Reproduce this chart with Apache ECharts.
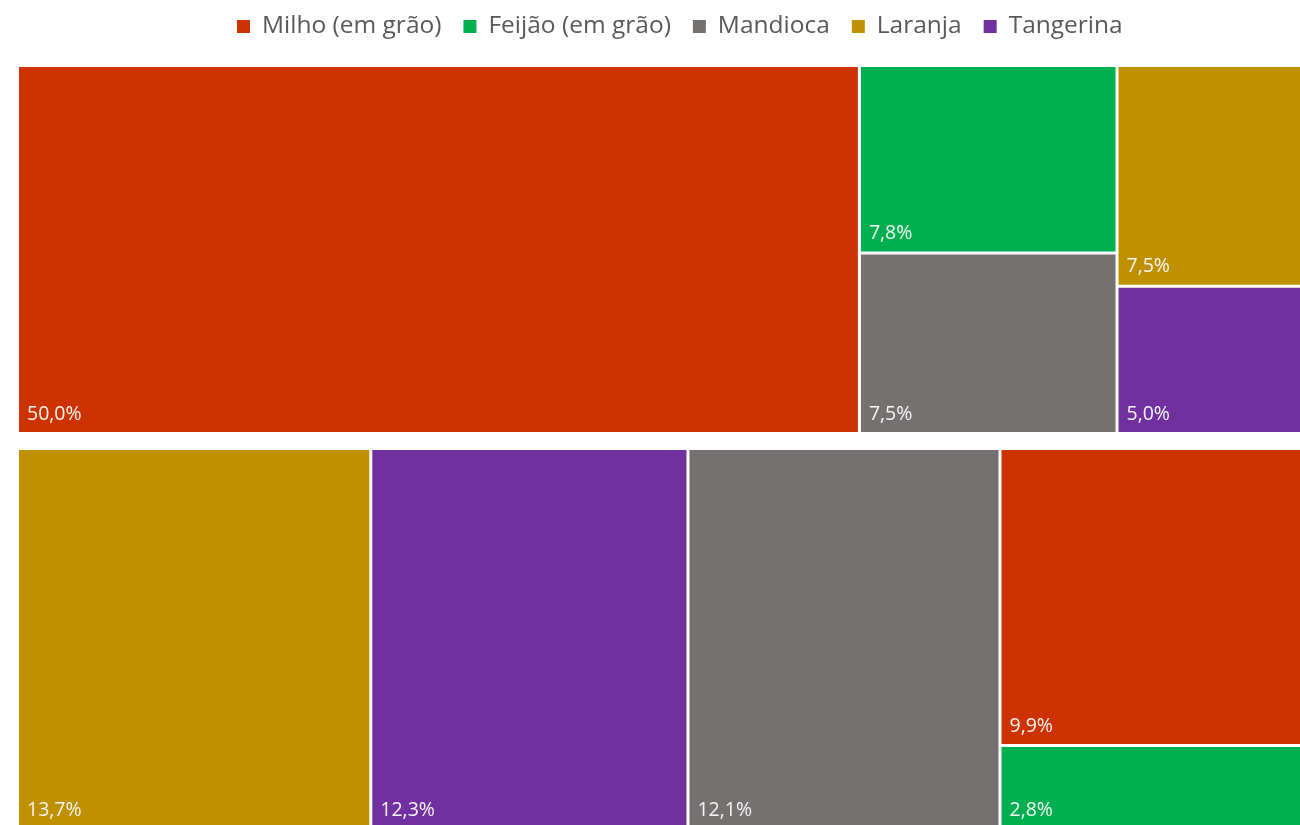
<!DOCTYPE html>
<html>
<head>
<meta charset="utf-8">
<script src="https://cdn.jsdelivr.net/npm/echarts@6/dist/echarts.min.js"></script>
<style>html,body{margin:0;padding:0;background:#fff;}#c{width:1300px;height:825px;}</style>
</head>
<body>
<div id="c"></div>
<script>
const categories = ['Milho (em grão)', 'Feijão (em grão)', 'Mandioca', 'Laranja', 'Tangerina'];
const colors = ['#CC3300', '#00B050', '#767171', '#BF9000', '#7030A0'];
const groupTop = [50.0, 7.8, 7.5, 7.5, 5.0];
const groupBottom = [9.9, 2.8, 12.1, 13.7, 12.3];

function buildData(vals) {
  const arr = categories.map((n, i) => ({ name: n, value: vals[i], itemStyle: { color: colors[i] } }));
  return arr.map((d, i) => ({ d, i })).sort((a, b) => (b.d.value - a.d.value) || (a.i - b.i)).map(o => o.d);
}

const FONT = '"Open Sans", "Noto Sans", sans-serif';

function tm(vals, box) {
  return Object.assign({
    type: 'treemap',
    data: buildData(vals),
    sort: false,
    squareRatio: 1,
    roam: false,
    nodeClick: false,
    breadcrumb: { show: false },
    animation: false,
    visibleMin: 0,
    label: {
      show: true,
      position: 'insideBottomLeft',
      distance: 3,
      color: '#f4f4f4',
      fontFamily: FONT,
      fontSize: 19.5,
      formatter: p => p.value.toFixed(1).replace('.', ',') + '%'
    },
    upperLabel: { show: false },
    levels: [
      { itemStyle: { borderWidth: 0, gapWidth: 0 } },
      { itemStyle: { borderWidth: 1.5, borderColor: '#ffffff', gapWidth: 0 } }
    ]
  }, box);
}

const chart = echarts.init(document.getElementById('c'), null, { renderer: 'canvas' });
chart.setOption({
  backgroundColor: '#ffffff',
  animation: false,
  legend: {
    top: 9,
    left: 232,
    icon: 'rect',
    itemWidth: 13,
    itemHeight: 13,
    itemGap: 22,
    textStyle: { fontFamily: FONT, fontSize: 24.5, color: '#595959', padding: [0, 0, 0, 7] },
    data: categories,
    selectedMode: false
  },
  series: [
    tm(groupTop, { left: 17.5, top: 65.5, width: 1310, height: 368 }),
    tm(groupBottom, { left: 17.5, top: 448.5, width: 1310, height: 381 }),
    {
      type: 'pie',
      radius: [0, 0],
      center: [-200, -200],
      silent: true,
      label: { show: false },
      labelLine: { show: false },
      data: categories.map((n, i) => ({ name: n, value: 1, itemStyle: { color: colors[i] } }))
    }
  ]
});
</script>
</body>
</html>
